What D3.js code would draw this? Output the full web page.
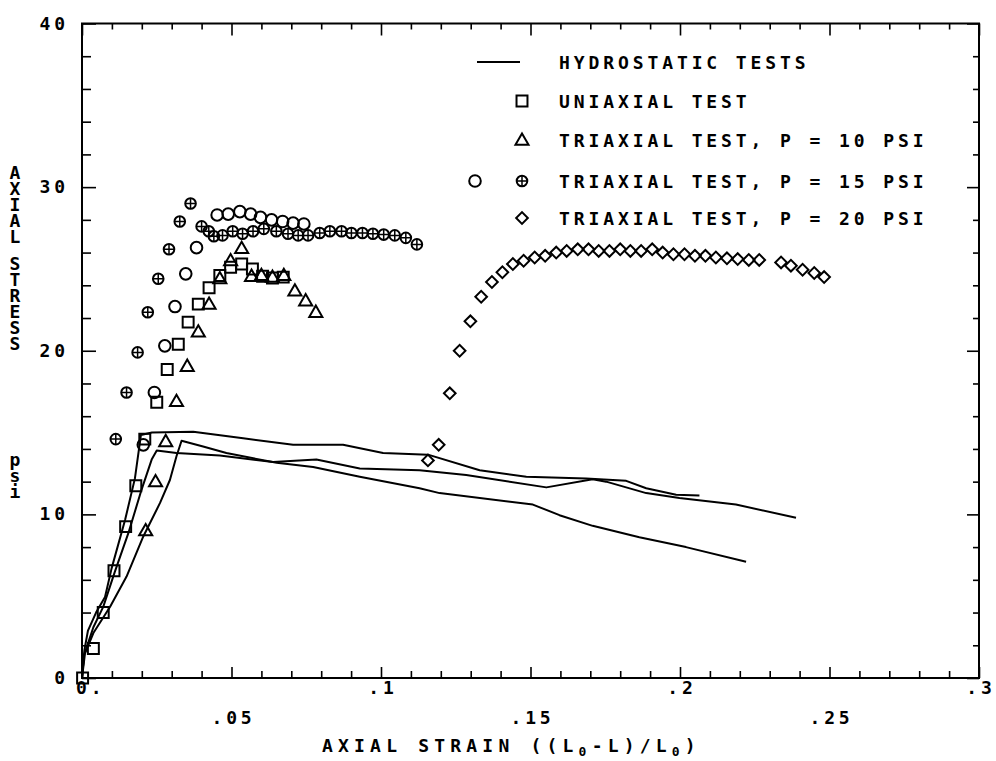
<!DOCTYPE html>
<html>
<head>
<meta charset="utf-8">
<script src="https://cdn.jsdelivr.net/npm/d3@7/dist/d3.min.js"></script>
<style>
  body { margin: 0; background: #fff; }
  text { font-family: "DejaVu Sans Mono", monospace; fill: #000; font-weight: bold; }
  .vtitle { writing-mode: vertical-rl; text-orientation: upright; }
</style>
</head>
<body>
<svg id="chart" width="996" height="761"></svg>
<script>
// Hydrostatic tests: [axial strain, axial stress psi]
const hydroA = [[0,0],[0.0008,1.7],[0.0020,2.9],[0.0047,4.0],[0.0077,4.95],[0.0099,6.7],[0.0144,9.65],[0.0177,12.2],[0.0197,14.85],[0.0234,15.0],[0.0372,15.05],[0.0539,14.65],[0.0706,14.25],[0.0873,14.25],[0.1007,13.75],[0.1157,13.65],[0.1330,12.7],[0.1486,12.3],[0.1686,12.2],[0.1820,12.05],[0.1887,11.6],[0.1987,11.2],[0.2065,11.15]];
const hydroB = [[0,0],[0.0007,1.4],[0.0038,3.1],[0.0071,4.35],[0.0110,6.5],[0.0155,8.85],[0.0199,11.5],[0.0233,13.35],[0.0250,13.9],[0.0316,13.75],[0.0461,13.6],[0.0639,13.2],[0.0784,13.35],[0.0929,12.8],[0.1129,12.7],[0.1285,12.4],[0.1553,11.65],[0.1708,12.15],[0.1753,12.0],[0.1887,11.3],[0.1998,11.0],[0.2187,10.6],[0.2388,9.8]];
const hydroC = [[0,0],[0.0010,1.5],[0.0038,2.75],[0.0094,4.35],[0.0149,6.2],[0.0205,8.65],[0.0261,10.7],[0.0294,12.1],[0.0316,13.55],[0.0333,14.5],[0.0405,14.15],[0.0483,13.75],[0.0651,13.15],[0.0773,12.9],[0.0929,12.3],[0.1129,11.6],[0.1196,11.3],[0.1508,10.6],[0.1597,9.95],[0.1708,9.3],[0.1864,8.6],[0.2020,8.0],[0.2221,7.1]];

// Uniaxial test (squares)
const uniaxial = [[0.0002,0],[0.0038,1.8],[0.0071,4.0],[0.0107,6.55],[0.0146,9.25],[0.0180,11.75],[0.0210,14.6],[0.0250,16.85],[0.0285,18.85],[0.0322,20.4],[0.0355,21.75],[0.0389,22.85],[0.0425,23.85],[0.0461,24.6],[0.0497,25.1],[0.0534,25.3],[0.0570,25.0],[0.0604,24.55],[0.0637,24.45],[0.0673,24.5]];

// Triaxial test, P = 10 psi (triangles)
const triaxial10 = [[0.0213,8.95],[0.0246,11.95],[0.0280,14.4],[0.0316,16.85],[0.0352,19.0],[0.0389,21.1],[0.0425,22.8],[0.0461,24.35],[0.0497,25.45],[0.0534,26.2],[0.0567,24.5],[0.0600,24.55],[0.0637,24.45],[0.0675,24.55],[0.0712,23.6],[0.0748,23.0],[0.0782,22.3]];

// Triaxial tests, P = 15 psi (open circles and circled crosses)
const triaxial15a = [[0.0205,14.25],[0.0242,17.45],[0.0277,20.3],[0.0311,22.7],[0.0347,24.7],[0.0383,26.3],[0.0452,28.3],[0.0489,28.35],[0.0528,28.5],[0.0564,28.35],[0.0597,28.15],[0.0634,28.0],[0.0671,27.9],[0.0706,27.8],[0.0742,27.75]];
const triaxial15b = [[0.0113,14.6],[0.0149,17.45],[0.0186,19.9],[0.0220,22.35],[0.0255,24.4],[0.0291,26.2],[0.0327,27.9],[0.0363,29.0],[0.0400,27.6],[0.0424,27.3],[0.0441,27.0],[0.0470,27.05],[0.0504,27.3],[0.0537,27.15],[0.0572,27.3],[0.0608,27.45],[0.0650,27.3],[0.0689,27.15],[0.0723,27.05],[0.0756,27.05],[0.0795,27.2],[0.0829,27.3],[0.0868,27.3],[0.0901,27.2],[0.0938,27.2],[0.0973,27.15],[0.1009,27.1],[0.1046,27.05],[0.1083,26.9],[0.1120,26.5]];

// Triaxial test, P = 20 psi (diamonds)
const triaxial20 = [[0.1157,13.3],[0.1193,14.25],[0.1230,17.4],[0.1263,20.0],[0.1299,21.8],[0.1335,23.3],[0.1371,24.2],[0.1406,24.8],[0.1441,25.3],[0.1477,25.5],[0.1514,25.7],[0.1549,25.8],[0.1586,26.0],[0.1621,26.1],[0.1658,26.2],[0.1694,26.2],[0.1728,26.1],[0.1764,26.1],[0.1800,26.2],[0.1834,26.1],[0.1870,26.1],[0.1907,26.2],[0.1942,26.0],[0.1978,25.9],[0.2015,25.9],[0.2050,25.8],[0.2085,25.8],[0.2120,25.7],[0.2157,25.65],[0.2193,25.6],[0.2230,25.55],[0.2265,25.55],[0.2338,25.4],[0.2371,25.2],[0.2410,24.95],[0.2449,24.75],[0.2482,24.5]];

// Tick labels
const xTickLabelsUpper = [[0, "0."], [0.1, ".1"], [0.2, ".2"], [0.3, ".3"]];
const xTickLabelsLower = [[0.05, ".05"], [0.15, ".15"], [0.25, ".25"]];
const yTickLabels = [[0, "0"], [10, "10"], [20, "20"], [30, "30"], [40, "40"]];
const legendLabels = ["HYDROSTATIC TESTS", "UNIAXIAL TEST", "TRIAXIAL TEST, P = 10 PSI", "TRIAXIAL TEST, P = 15 PSI", "TRIAXIAL TEST, P = 20 PSI"];
const yTitleWords = ["AXIAL", "STRESS", "psi"];

const svg = d3.select("#chart");
const x = d3.scaleLinear().domain([0, 0.3]).range([82, 979]);
const y = d3.scaleLinear().domain([0, 40]).range([678, 23.5]);

const FS = 18, LS = "3.9px";
const SW = 2.0;

// Frame
svg.append("rect")
  .attr("x", x(0)).attr("y", y(40))
  .attr("width", x(0.3) - x(0)).attr("height", y(0) - y(40))
  .attr("fill", "none").attr("stroke", "#000").attr("stroke-width", 2);

// Inward ticks on all four sides
const xMinor = d3.range(0, 31).map(i => i / 100).filter(v => Math.round(v * 100) % 5 !== 0);
const xMajor = d3.range(0, 7).map(i => i * 0.05);
const yMinor = d3.range(0, 21).map(i => i * 2).filter(v => v % 10 !== 0);
const yMajor = [0, 10, 20, 30, 40];

function tickAxis(axis, tx, ty) {
  const g = svg.append("g").attr("transform", `translate(${tx},${ty})`).call(axis);
  g.select(".domain").remove();
  g.selectAll("line").attr("stroke", "#000").attr("stroke-width", 1.6);
}
tickAxis(d3.axisBottom(x).tickValues(xMinor).tickSize(-7).tickFormat(""), 0, y(0));
tickAxis(d3.axisBottom(x).tickValues(xMajor).tickSize(-11).tickFormat(""), 0, y(0));
tickAxis(d3.axisTop(x).tickValues(xMinor).tickSize(-6).tickFormat(""), 0, y(40));
tickAxis(d3.axisTop(x).tickValues(xMajor).tickSize(-12).tickFormat(""), 0, y(40));
tickAxis(d3.axisLeft(y).tickValues(yMinor).tickSize(-9).tickFormat(""), x(0), 0);
tickAxis(d3.axisLeft(y).tickValues(yMajor).tickSize(-14).tickFormat(""), x(0), 0);
tickAxis(d3.axisRight(y).tickValues(yMinor).tickSize(-6).tickFormat(""), x(0.3), 0);
tickAxis(d3.axisRight(y).tickValues(yMajor).tickSize(-12).tickFormat(""), x(0.3), 0);

// Tick labels
svg.selectAll(".xlu").data(xTickLabelsUpper).enter().append("text")
  .attr("x", d => d[0] === 0 ? x(d[0]) - 6 : x(d[0]) + 2)
  .attr("y", 694).attr("font-size", FS).style("letter-spacing", LS)
  .attr("text-anchor", d => d[0] === 0 ? "start" : "middle")
  .text(d => d[1]);
svg.selectAll(".xll").data(xTickLabelsLower).enter().append("text")
  .attr("x", d => x(d[0]) + 2).attr("y", 724).attr("font-size", FS).style("letter-spacing", LS)
  .attr("text-anchor", "middle").text(d => d[1]);
svg.selectAll(".yl").data(yTickLabels).enter().append("text")
  .attr("x", 69).attr("y", d => y(d[0]) + 6).attr("font-size", FS).style("letter-spacing", LS)
  .attr("text-anchor", "end").text(d => d[1]);

// X axis title with subscript zeros
const xt = svg.append("text").attr("x", 322).attr("y", 752).attr("font-size", FS).style("letter-spacing", "5.2px");
xt.append("tspan").text("AXIAL STRAIN  ((L");
xt.append("tspan").attr("font-size", 13).attr("dy", 4).text("0");
xt.append("tspan").attr("dy", -4).text("-L)/L");
xt.append("tspan").attr("font-size", 13).attr("dy", 4).text("0");
xt.append("tspan").attr("dy", -4).text(")");

// Y axis title: each word set vertically with upright letters
const yTitleStarts = [162, 253, 449];
yTitleWords.forEach((w, wi) => {
  svg.append("text").attr("class", "vtitle")
    .attr("x", 15).attr("y", yTitleStarts[wi])
    .attr("font-size", FS).style("letter-spacing", "-5px")
    .text(w);
});

// Hydrostatic curves
const line = d3.line().x(d => x(d[0])).y(d => y(d[1]));
[hydroA, hydroB, hydroC].forEach(s => {
  svg.append("path").datum(s).attr("d", line)
    .attr("fill", "none").attr("stroke", "#000").attr("stroke-width", SW)
    .attr("stroke-linejoin", "round");
});

// Marker drawing helpers
const symSquare = d3.symbol().type(d3.symbolSquare).size(120);
const symTriangle = d3.symbol().type(d3.symbolTriangle).size(74);
const symDiamond = d3.symbol().type(d3.symbolSquare).size(68);

function drawSquare(g, cx, cy) {
  g.append("path").attr("d", symSquare()).attr("transform", `translate(${cx},${cy})`)
    .attr("fill", "none").attr("stroke", "#000").attr("stroke-width", SW);
}
function drawTriangle(g, cx, cy) {
  g.append("path").attr("d", symTriangle()).attr("transform", `translate(${cx},${cy})`)
    .attr("fill", "none").attr("stroke", "#000").attr("stroke-width", SW);
}
function drawDiamond(g, cx, cy) {
  g.append("path").attr("d", symDiamond()).attr("transform", `translate(${cx},${cy}) rotate(45)`)
    .attr("fill", "none").attr("stroke", "#000").attr("stroke-width", SW);
}
function drawCircle(g, cx, cy) {
  g.append("circle").attr("cx", cx).attr("cy", cy).attr("r", 5.8)
    .attr("fill", "none").attr("stroke", "#000").attr("stroke-width", SW);
}
function drawPlus(g, cx, cy) {
  const r = 5.3;
  g.append("circle").attr("cx", cx).attr("cy", cy).attr("r", r)
    .attr("fill", "none").attr("stroke", "#000").attr("stroke-width", SW);
  g.append("path").attr("d", `M${cx - r},${cy}H${cx + r}M${cx},${cy - r}V${cy + r}`)
    .attr("stroke", "#000").attr("stroke-width", 1.5);
}

const marks = svg.append("g");
uniaxial.forEach(d => drawSquare(marks, x(d[0]), y(d[1])));
triaxial10.forEach(d => drawTriangle(marks, x(d[0]), y(d[1])));
triaxial15a.forEach(d => drawCircle(marks, x(d[0]), y(d[1])));
triaxial15b.forEach(d => drawPlus(marks, x(d[0]), y(d[1])));
triaxial20.forEach(d => drawDiamond(marks, x(d[0]), y(d[1])));

// Legend
const legendRows = [62, 101, 140, 181, 218];
const leg = svg.append("g");
leg.append("line").attr("x1", 477).attr("x2", 520).attr("y1", legendRows[0]).attr("y2", legendRows[0])
  .attr("stroke", "#000").attr("stroke-width", SW);
drawSquare(leg, 522, legendRows[1]);
drawTriangle(leg, 522, legendRows[2] + 1);
drawCircle(leg, 475, legendRows[3]);
drawPlus(leg, 522, legendRows[3]);
drawDiamond(leg, 522, legendRows[4]);
legendLabels.forEach((t, i) => {
  leg.append("text").attr("x", 559).attr("y", legendRows[i] + 6.5)
    .attr("font-size", FS).style("letter-spacing", LS).text(t);
});
</script>
</body>
</html>
